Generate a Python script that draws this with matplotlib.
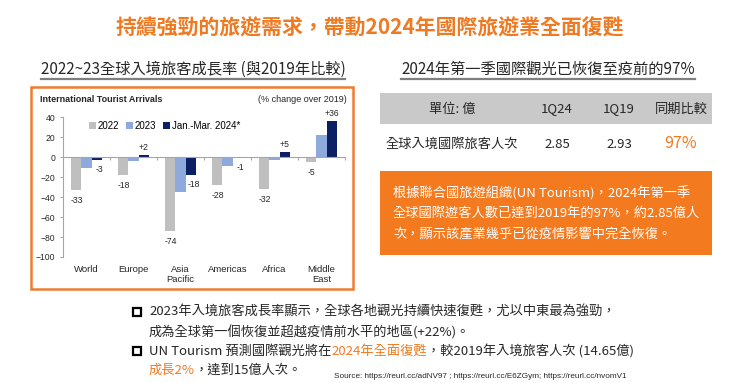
import matplotlib
matplotlib.use('Agg')
import matplotlib.pyplot as plt
from matplotlib.patches import Rectangle
from matplotlib.lines import Line2D
import numpy as np

# 資料
regions = ['World', 'Europe', 'Asia\nPacific', 'Americas', 'Africa', 'Middle\nEast']
chg_2022 = [-33, -18, -74, -28, -32, -5]
chg_2023 = [-11, -4, -35, -9, -3, 22]
chg_2024q1 = [-3, 2, -18, -1, 5, 36]
series_names = ['2022', '2023', 'Jan.-Mar. 2024*']

table_header = ['單位: 億', '1Q24', '1Q19', '同期比較']
table_row = ['全球入境國際旅客人次', '2.85', '2.93', '97%']

box_lines = ['根據聯合國旅遊組織(UN Tourism)，2024年第一季',
             '全球國際遊客人數已達到2019年的97%，約2.85億人',
             '次，顯示該產業幾乎已從疫情影響中完全恢復。']

plt.rcParams['font.family'] = ['Noto Sans CJK TC', 'DejaVu Sans']

ORANGE = '#F07A22'
BORDER = '#ED7D31'
BOX = '#F47A1F'
DARK = '#262626'
C22, C23, C24 = '#BFBFBF', '#8EA9DB', '#0B1F65'
LATIN = ['Liberation Sans', 'DejaVu Sans']

W, H = 740, 383
fig = plt.figure(figsize=(7.4, 3.83), dpi=100)
r = fig.canvas.get_renderer()


def fx(x):
    return x / W


def fy(y):
    return 1 - y / H


# 標題
fig.text(fx(370), fy(28), '持續強勁的旅遊需求，帶動2024年國際旅遊業全面復甦',
         ha='center', va='center', fontsize=15, fontweight='bold', color=ORANGE)


def underlined(x, y, s):
    t = fig.text(fx(x), fy(y), s, ha='center', va='center', fontsize=11, color=DARK)
    bb = t.get_window_extent(renderer=r)
    fig.add_artist(Line2D([bb.x0 / W, bb.x1 / W], [fy(y + 10)] * 2, color='#7F7F7F', lw=1.6))


underlined(193, 69, '2022~23全球入境旅客成長率 (與2019年比較)')
underlined(548, 69, '2024年第一季國際觀光已恢復至疫前的97%')

# 左側圖表外框
fig.add_artist(Rectangle((fx(31), fy(289)), (353 - 31) / W, (289 - 87) / H,
                         transform=fig.transFigure, fill=False, ec=BORDER, lw=1.8))
fig.text(fx(40), fy(99), 'International Tourist Arrivals', fontsize=6.5, fontweight='bold',
         family=LATIN, va='center', color=DARK)
fig.text(fx(347), fy(99), '(% change over 2019)', fontsize=6.5, family=LATIN,
         ha='right', va='center', color=DARK)

ax = fig.add_axes([fx(63), fy(257), (345 - 63) / W, (257 - 117) / H])
x = np.arange(len(regions))
w = 0.215
b1 = ax.bar(x - w, chg_2022, w, color=C22)
b2 = ax.bar(x, chg_2023, w, color=C23)
b3 = ax.bar(x + w, chg_2024q1, w, color=C24)
ax.set_xlim(-0.5, 5.5)
ax.set_ylim(-100, 40)
for s in ['top', 'right']:
    ax.spines[s].set_visible(False)
ax.spines['bottom'].set_position(('data', 0))
ax.spines['bottom'].set_color('#A6A6A6')
ax.spines['left'].set_color('#A6A6A6')
ax.set_yticks(range(-100, 41, 20))
ax.set_xticks(np.arange(-0.5, 6, 1))
ax.set_xticklabels([])
ax.tick_params(axis='both', length=2, color='#A6A6A6', labelsize=6.2, labelcolor=DARK)
for lab in ax.get_yticklabels():
    lab.set_family(LATIN)

for i, name in enumerate(regions):
    ax.text(i, -108, name, ha='center', va='top', fontsize=6.8, family=LATIN,
            color=DARK, linespacing=1.1)

for i, v in enumerate(chg_2022):
    ax.text(i - w, v - 10, f'{v:d}', ha='center', va='center', fontsize=6.2,
            family=LATIN, color=DARK)
for i, v in enumerate(chg_2024q1):
    if v > 0:
        ax.text(i + w, v + 3, f'{v:+d}', ha='center', va='bottom', fontsize=6.2,
                family=LATIN, color=DARK)
    else:
        ax.text(i + w + 0.06, v - 9, f'{v:d}', ha='center', va='center', fontsize=6.2,
                family=LATIN, color=DARK)

ax.legend([b1, b2, b3], series_names, loc='center left', bbox_to_anchor=(0.075, 0.936),
          ncol=3, frameon=False, handlelength=0.7, handleheight=0.7, handletextpad=0.2,
          columnspacing=0.7, borderpad=0, prop={'family': LATIN, 'size': 7})

# 右側表格
fig.add_artist(Rectangle((fx(380), fy(124)), (712 - 380) / W, (124 - 93) / H,
                         transform=fig.transFigure, fc='#C9C9C9', ec='none'))
col_x = [452, 557, 619, 681]
for cx, s in zip(col_x, table_header):
    fig.text(fx(cx), fy(109), s, ha='center', va='center', fontsize=9.5, color=DARK)
for j, (cx, s) in enumerate(zip(col_x, table_row)):
    if j == 3:
        fig.text(fx(cx), fy(144), s, ha='center', va='center', fontsize=11.5, color=ORANGE)
    else:
        fig.text(fx(cx), fy(144), s, ha='center', va='center', fontsize=9.5, color=DARK)

fig.add_artist(Rectangle((fx(380), fy(255)), (712 - 380) / W, (255 - 171) / H,
                         transform=fig.transFigure, fc=BOX, ec='none'))
for k, s in enumerate(box_lines):
    fig.text(fx(393), fy(193 + 20.5 * k), s, ha='left', va='center', fontsize=9.5, color='white')


# 下方說明文字
def rich_line(x, y, parts, size=9.5):
    for s, c in parts:
        t = fig.text(fx(x), fy(y), s, ha='left', va='center', fontsize=size, color=c)
        x += t.get_window_extent(renderer=r).width


for by in [312, 351]:
    fig.add_artist(Rectangle((fx(133), fy(by + 4)), 8 / W, 8 / H,
                             transform=fig.transFigure, fill=False, ec='black', lw=1.6))

rich_line(149, 312, [('2023年入境旅客成長率顯示，全球各地觀光持續快速復甦，尤以中東最為強勁，', DARK)])
rich_line(149, 332, [('成為全球第一個恢復並超越疫情前水平的地區(+22%)。', DARK)])
rich_line(149, 351, [('UN Tourism 預測國際觀光將在', DARK), ('2024年全面復甦', ORANGE),
                     ('，較2019年入境旅客人次 (14.65億)', DARK)])
rich_line(149, 370, [('成長2%', ORANGE), ('，達到15億人次。', DARK)])

fig.text(fx(334), fy(376), 'Source: https://reurl.cc/adNV97 ; https://reurl.cc/E6ZGym; https://reurl.cc/nvomV1',
         ha='left', va='center', fontsize=5.9, family=LATIN, color=DARK)

fig.savefig('out.png', dpi=100, facecolor='white')
